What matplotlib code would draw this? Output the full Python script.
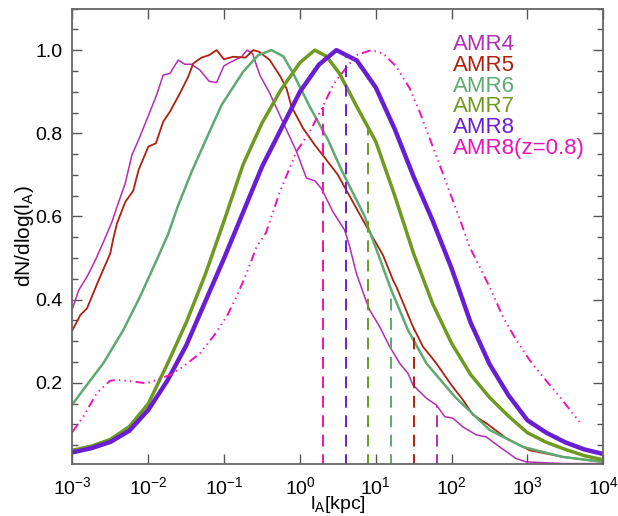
import numpy as np
import matplotlib
matplotlib.use('Agg')
import matplotlib.pyplot as plt
from matplotlib.ticker import MultipleLocator, FixedLocator, NullLocator

plt.rcParams['font.family'] = ['Liberation Sans', 'DejaVu Sans']
plt.rcParams['mathtext.fontset'] = 'custom'
plt.rcParams['mathtext.rm'] = 'Liberation Sans'
plt.rcParams['mathtext.it'] = 'Liberation Sans:italic'
plt.rcParams['mathtext.bf'] = 'Liberation Sans:bold'
plt.rcParams['lines.scale_dashes'] = False

# log10(l_A / kpc) and dN/dlog(l_A)
amr4_logl = [-3.0, -2.918, -2.809, -2.699, -2.589, -2.48, -2.391, -2.304, -2.216, -2.12,
             -1.979, -1.891, -1.804, -1.715, -1.606, -1.518, -1.43, -1.32, -1.198, -1.1,
             -1.004, -0.925, -0.837, -0.771, -0.697, -0.626, -0.53, -0.398, -0.288, -0.178,
             -0.046, 0.086, 0.195, 0.283, 0.436, 0.59, 0.656, 0.744, 0.876, 0.92,
             1.051, 1.183, 1.315, 1.424, 1.49, 1.667, 1.798, 1.908, 2.017, 2.149,
             2.325, 2.457, 2.632, 2.852, 2.984, 3.466, 4.0]
amr4_y = [0.379, 0.423, 0.455, 0.495, 0.54, 0.587, 0.635, 0.68, 0.748, 0.788,
          0.852, 0.892, 0.94, 0.944, 0.976, 0.966, 0.966, 0.952, 0.925, 0.922,
          0.962, 0.97, 0.978, 0.984, 1.0, 0.992, 0.94, 0.896, 0.852, 0.808,
          0.756, 0.692, 0.686, 0.667, 0.611, 0.567, 0.527, 0.463, 0.395, 0.375,
          0.335, 0.287, 0.247, 0.223, 0.195, 0.163, 0.147, 0.119, 0.115, 0.094,
          0.075, 0.07, 0.046, 0.018, 0.01, 0.006, 0.006]

amr5_logl = [-3.0, -2.897, -2.809, -2.655, -2.502, -2.462, -2.414, -2.304, -2.199, -2.128,
             -2.0, -1.9, -1.804, -1.715, -1.584, -1.474, -1.408, -1.298, -1.198, -1.1,
             -1.004, -0.881, -0.718, -0.618, -0.539, -0.398, -0.257, -0.178, -0.112, 0.041,
             0.195, 0.37, 0.5, 0.88, 1.095, 1.227, 1.272, 1.49, 1.622, 1.798,
             1.996, 2.149, 2.281, 2.457, 2.72, 3.028, 3.466, 3.99]
amr5_y = [0.327, 0.363, 0.379, 0.447, 0.511, 0.547, 0.583, 0.635, 0.662, 0.712,
          0.768, 0.776, 0.828, 0.852, 0.896, 0.936, 0.968, 0.982, 0.988, 1.0,
          0.978, 0.984, 0.982, 1.0, 0.996, 0.976, 0.936, 0.908, 0.864, 0.812,
          0.772, 0.731, 0.70, 0.575, 0.507, 0.447, 0.431, 0.335, 0.287, 0.247,
          0.195, 0.159, 0.123, 0.103, 0.067, 0.038, 0.022, 0.01]

amr6_logl = [-3.0, -2.79, -2.594, -2.33, -2.11, -1.91, -1.74, -1.606, -1.43, -1.232,
             -1.034, -0.75, -0.55, -0.376, -0.22, -0.09, 0.129, 0.37, 0.547, 0.854,
             0.897, 1.05, 1.2, 1.424, 1.667, 2.04, 2.5, 2.94, 3.466, 4.0]
amr6_y = [0.149, 0.2, 0.247, 0.327, 0.407, 0.487, 0.557, 0.627, 0.707, 0.788,
          0.868, 0.948, 0.988, 1.0, 0.985, 0.944, 0.864, 0.784, 0.712, 0.6,
          0.575, 0.5, 0.425, 0.327, 0.247, 0.167, 0.087, 0.046, 0.022, 0.01]

amr7_logl = [-3.0, -2.75, -2.5, -2.25, -2.0, -1.75, -1.5, -1.25, -1.0, -0.75,
             -0.5, -0.25, 0.0, 0.195, 0.35, 0.52, 0.75, 1.0, 1.25, 1.5,
             1.75, 2.0, 2.25, 2.5, 2.75, 3.0, 3.25, 3.5, 3.75, 4.0]
amr7_y = [0.038, 0.048, 0.064, 0.095, 0.15, 0.245, 0.345, 0.46, 0.59, 0.725,
          0.825, 0.905, 0.97, 1.0, 0.985, 0.944, 0.864, 0.78, 0.65, 0.51,
          0.39, 0.295, 0.22, 0.165, 0.12, 0.08, 0.057, 0.04, 0.025, 0.015]

amr8_logl = [-3.0, -2.75, -2.5, -2.25, -2.0, -1.75, -1.5, -1.25, -1.0, -0.75,
             -0.5, -0.25, 0.0, 0.25, 0.48, 0.75, 1.0, 1.25, 1.5, 1.75,
             2.0, 2.25, 2.5, 2.75, 3.0, 3.25, 3.5, 3.75, 4.0]
amr8_y = [0.033, 0.043, 0.058, 0.085, 0.135, 0.205, 0.29, 0.395, 0.5, 0.61,
          0.72, 0.81, 0.9, 0.965, 1.0, 0.975, 0.91, 0.81, 0.695, 0.59,
          0.475, 0.345, 0.245, 0.17, 0.11, 0.08, 0.057, 0.04, 0.029]

amr8z_logl = [-3.0, -2.857, -2.681, -2.506, -2.418, -2.242, -2.022, -1.891, -1.715, -1.54,
              -1.32, -1.145, -0.968, -0.837, -0.705, -0.573, -0.45, -0.266, -0.046, 0.129,
              0.291, 0.436, 0.568, 0.744, 0.942, 1.095, 1.272, 1.447, 1.578, 1.71,
              1.842, 1.974, 2.105, 2.237, 2.325, 2.5, 2.676, 2.852, 3.028, 3.203,
              3.423, 3.686]
amr8z_y = [0.082, 0.119, 0.175, 0.205, 0.207, 0.204, 0.199, 0.207, 0.219, 0.239,
           0.271, 0.311, 0.359, 0.407, 0.463, 0.527, 0.56, 0.659, 0.756, 0.804,
           0.86, 0.916, 0.948, 0.988, 1.0, 0.992, 0.96, 0.908, 0.852, 0.788,
           0.724, 0.659, 0.595, 0.527, 0.495, 0.431, 0.359, 0.303, 0.255, 0.215,
           0.167, 0.106]

# characteristic scale marked by the dashed lines [kpc]
mark_l = [64, 32, 16, 8, 4, 2]

labels = ['AMR4', 'AMR5', 'AMR6', 'AMR7', 'AMR8', 'AMR8(z=0.8)']
colors = ['#B42DB4', '#B0200E', '#5EAA70', '#6E9A20', '#6A1ED2', '#EE12B8']
widths = [1.1, 1.3, 1.8, 2.5, 3.2, 1.4]

series = [(amr4_logl, amr4_y), (amr5_logl, amr5_y), (amr6_logl, amr6_y),
          (amr7_logl, amr7_y), (amr8_logl, amr8_y), (amr8z_logl, amr8z_y)]

fig = plt.figure(figsize=(6.18, 5.16), dpi=100)
ax = fig.add_axes([0.1173, 0.1008, 0.8589, 0.8827])

for i, (lx, yy) in enumerate(series):
    x = 10.0 ** np.array(lx)
    if i == 5:
        ax.plot(x, yy, color=colors[i], lw=widths[i],
                dashes=(6.5, 3, 1, 3, 1, 3, 1, 3))
    else:
        ax.plot(x, yy, color=colors[i], lw=widths[i])

for i, (lx, yy) in enumerate(series):
    top = np.interp(np.log10(mark_l[i]), lx, yy)
    ax.plot([mark_l[i], mark_l[i]], [0, top], color=colors[i], lw=1.4,
            dashes=(8.5, 5.5))

ax.set_xscale('log')
ax.set_xlim(1e-3, 1e4)
ax.set_ylim(0.005, 1.1)
ax.xaxis.set_major_locator(FixedLocator([1e-3, 1e-2, 1e-1, 1e0, 1e1, 1e2, 1e3, 1e4]))
ax.xaxis.set_minor_locator(NullLocator())
ax.yaxis.set_major_locator(FixedLocator([0.2, 0.4, 0.6, 0.8, 1.0]))
ax.yaxis.set_major_formatter(plt.FormatStrFormatter('%.1f'))
ax.yaxis.set_minor_locator(MultipleLocator(0.05))

ax.tick_params(which='both', direction='in', top=True, right=True,
               colors='#555555', labelcolor='black', labelsize=14)
ax.tick_params(which='major', length=7, width=1.0)
ax.tick_params(which='minor', length=4, width=1.0)
ax.tick_params(axis='x', pad=9)
ax.tick_params(axis='y', pad=7)
for s in ax.spines.values():
    s.set_color('#666666')
    s.set_linewidth(1.3)

ax.set_xlabel('l$_\\mathregular{A}$[kpc]', fontsize=14, labelpad=-3)
ax.set_ylabel('dN/dlog(l$_\\mathregular{A}$)', fontsize=15, labelpad=0)

for i, lab in enumerate(labels):
    fig.text(453 / 618, 1 - (50 + 20.8 * i) / 516, lab, color=colors[i],
             fontsize=16, va='baseline', ha='left')

fig.savefig('out.png', dpi=100)
